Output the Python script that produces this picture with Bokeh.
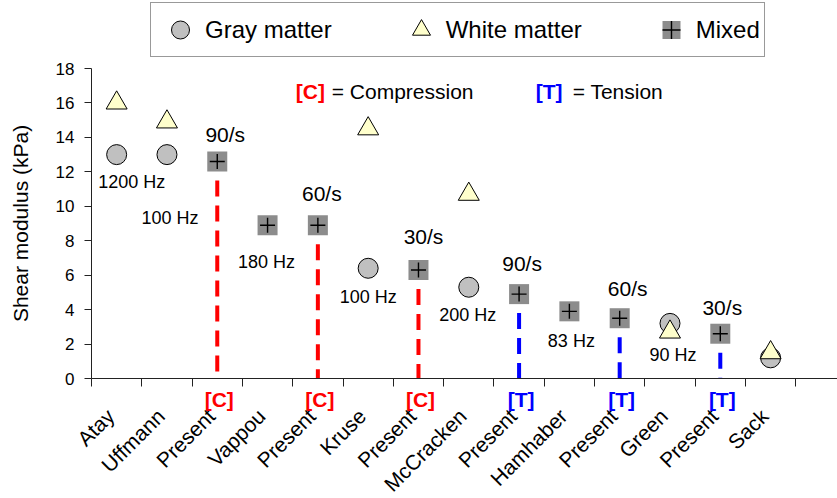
import math
from bokeh.plotting import figure
from bokeh.models import (ColumnDataSource, Range1d, FixedTicker, LabelSet, Label,
                          Legend, LegendItem)
from bokeh.core.properties import value
from bokeh.embed import file_html
from bokeh.resources import INLINE

FONT = "Liberation Sans"

# ---------------- data ----------------
studies = ["Atay", "Uffmann", "Present", "Vappou", "Present", "Kruse", "Present",
           "McCracken", "Present", "Hamhaber", "Present", "Green", "Present", "Sack"]

gray_idx = [0, 1, 5, 7, 11, 13]
gray_vals = [13.0, 13.0, 6.4, 5.3, 3.2, 1.2]

white_idx = [0, 1, 5, 7, 11, 13]
white_vals = [16.0, 14.9, 14.5, 10.7, 2.7, 1.5]

mixed_idx = [2, 3, 4, 6, 8, 9, 10, 12]
mixed_vals = [12.6, 8.9, 8.9, 6.3, 4.9, 3.9, 3.5, 2.6]

freq_idx = [0, 1, 3, 5, 7, 9, 11]
freq_labels = ["1200 Hz", "100 Hz", "180 Hz", "100 Hz", "200 Hz", "83 Hz", "90 Hz"]

present_idx = [2, 4, 6, 8, 10, 12]
rate_labels = ["90/s", "60/s", "30/s", "90/s", "60/s", "30/s"]
mode_labels = ["[C]", "[C]", "[C]", "[T]", "[T]", "[T]"]

y_ticks = [0, 2, 4, 6, 8, 10, 12, 14, 16, 18]

# ---------------- layout / style ----------------
freq_dx = [15, 3, -1, 0, -1, 2, 3]
freq_dy = [-27, -63, -37, -29, -28, -30, -23]
rate_dx = [8, 4, 5, 3, 8, 2]
rate_dy = [27, 32, 34, 31, 30, 26]
mode_colors = {"[C]": "#ff0000", "[T]": "#0000ff"}
line_gap = 1.1            # dashed line ends this far below the marker (data units)
Y_LO, Y_HI = 0, 18        # value axis extent
PX_PER_UNIT = 310 / 18.0  # vertical scale in pixels
TOP_PAD, BOTTOM_PAD = 68, 120  # room above / below the value axis (px)
X_END = 14.83             # visible category extent
PX_PER_CAT = 746 / X_END
LEFT_PAD = 91             # room left of the value axis (px)
LABEL_SHIFT = 0.12        # rotated category labels sit slightly left of centre


def xc(i):
    return i + 0.5


values_at = {}
for i, v in zip(gray_idx, gray_vals):
    values_at.setdefault(i, []).append(v)
for i, v in zip(white_idx, white_vals):
    values_at.setdefault(i, []).append(v)
for i, v in zip(mixed_idx, mixed_vals):
    values_at.setdefault(i, []).append(v)

x_range = Range1d(-LEFT_PAD / PX_PER_CAT, X_END)
y_range = Range1d(Y_LO - BOTTOM_PAD / PX_PER_UNIT, Y_HI + TOP_PAD / PX_PER_UNIT)
p = figure(width=837, height=498, x_range=x_range, y_range=y_range,
           output_backend="svg", toolbar_location=None,
           min_border_left=0, min_border_right=0, min_border_top=0, min_border_bottom=0)
p.outline_line_color = None
p.xgrid.grid_line_color = None
p.ygrid.grid_line_color = None
p.background_fill_color = "white"
p.border_fill_color = "white"

# dashed strain-rate lines
present_vals = [values_at[i][0] for i in present_idx]
seg_src = ColumnDataSource(dict(
    x=[xc(i) for i in present_idx],
    y0=[0] * len(present_idx),
    y1=[v - line_gap for v in present_vals],
    color=[mode_colors[m] for m in mode_labels],
))
p.segment(x0="x", y0="y1", x1="x", y1="y0", source=seg_src, line_color="color",
          line_width=4, line_dash="16 9")

gray_r = p.scatter([xc(i) for i in gray_idx], gray_vals, marker="circle", size=20,
                   fill_color="#c0c0c0", line_color="black", line_width=1)
white_r = p.scatter([xc(i) for i in white_idx], white_vals, marker="triangle", size=21,
                    fill_color="#ffffcc", line_color="black", line_width=1)
mix_sq = p.scatter([xc(i) for i in mixed_idx], mixed_vals, marker="square", size=20,
                   fill_color="#8c8c8c", line_color=None)
mix_cr = p.scatter([xc(i) for i in mixed_idx], mixed_vals, marker="cross", size=15,
                   line_color="black", line_width=1.4)

# frequency labels
freq_src = ColumnDataSource(dict(
    x=[xc(i) for i in freq_idx],
    y=[min(values_at[i]) for i in freq_idx],
    text=freq_labels, dx=freq_dx, dy=freq_dy,
))
p.add_layout(LabelSet(x="x", y="y", text="text", source=freq_src, x_offset="dx", y_offset="dy",
                      text_align="center", text_baseline="middle", text_font=value(FONT),
                      text_font_size="18px", text_color="black"))

# strain-rate labels
rate_src = ColumnDataSource(dict(
    x=[xc(i) for i in present_idx], y=present_vals,
    text=rate_labels, dx=rate_dx, dy=rate_dy,
))
p.add_layout(LabelSet(x="x", y="y", text="text", source=rate_src, x_offset="dx", y_offset="dy",
                      text_align="center", text_baseline="middle", text_font=value(FONT),
                      text_font_size="21px", text_color="black"))

# [C] / [T] under the axis
mode_src = ColumnDataSource(dict(
    x=[xc(i) for i in present_idx], y=[0] * len(present_idx),
    text=mode_labels, color=[mode_colors[m] for m in mode_labels],
))
p.add_layout(LabelSet(x="x", y="y", text="text", source=mode_src, x_offset=2, y_offset=-21,
                      text_align="center", text_baseline="middle", text_font=value(FONT),
                      text_font_size="21px", text_font_style="bold", text_color="color"))

# key text
for xk, tag, desc, dx2 in [(4.06, "[C]", "= Compression", 36), (8.83, "[T]", "= Tension", 37)]:
    p.add_layout(Label(x=xk, y=16.67, text=tag, text_color=mode_colors[tag], text_font=FONT,
                       text_font_size="21px", text_font_style="bold",
                       text_align="left", text_baseline="middle"))
    p.add_layout(Label(x=xk, y=16.67, x_offset=dx2, text=desc, text_color="black",
                       text_font=FONT, text_font_size="21px",
                       text_align="left", text_baseline="middle"))

# axes
label_pos = [xc(i) - LABEL_SHIFT for i in range(len(studies))]
xa = p.xaxis[0]
xa.fixed_location = 0
xa.bounds = (0, X_END)
xa.ticker = FixedTicker(ticks=label_pos, minor_ticks=list(range(len(studies) + 1)))
xa.major_label_overrides = {pos: s for pos, s in zip(label_pos, studies)}
xa.major_label_orientation = math.pi / 4
xa.major_tick_out = 0
xa.major_tick_in = 0
xa.minor_tick_out = 8
xa.minor_tick_in = 0
xa.minor_tick_line_color = "#222222"
xa.axis_line_color = "#222222"
xa.major_label_text_font = FONT
xa.major_label_text_font_size = "21px"
xa.major_label_text_color = "black"
xa.major_label_standoff = 26

ya = p.yaxis[0]
ya.fixed_location = 0
ya.bounds = (Y_LO, Y_HI)
ya.ticker = FixedTicker(ticks=y_ticks)
ya.major_tick_out = 7
ya.major_tick_in = 0
ya.minor_tick_out = 0
ya.minor_tick_in = 0
ya.axis_line_color = "#222222"
ya.major_tick_line_color = "#222222"
ya.major_label_text_font = FONT
ya.major_label_text_font_size = "17px"
ya.major_label_text_color = "black"
ya.major_label_standoff = 10
ya.axis_label = "Shear modulus (kPa)"
ya.axis_label_text_font = FONT
ya.axis_label_text_font_size = "21px"
ya.axis_label_text_font_style = "normal"
ya.axis_label_text_color = "black"
ya.axis_label_standoff = 21

legend = Legend(items=[
    LegendItem(label="Gray matter", renderers=[gray_r]),
    LegendItem(label="White matter", renderers=[white_r]),
    LegendItem(label="Mixed", renderers=[mix_sq, mix_cr]),
], orientation="horizontal", location=(150, 441))
legend.label_text_font = FONT
legend.label_text_font_size = "24px"
legend.label_text_color = "black"
legend.glyph_width = 50
legend.glyph_height = 45
legend.label_standoff = 0
legend.spacing = 64
legend.padding = 4
legend.margin = 0
legend.border_line_color = "#333333"
legend.border_line_width = 1
legend.background_fill_color = "white"
legend.background_fill_alpha = 1
p.add_layout(legend, "center")

open("out.html", "w").write(file_html(p, INLINE))
